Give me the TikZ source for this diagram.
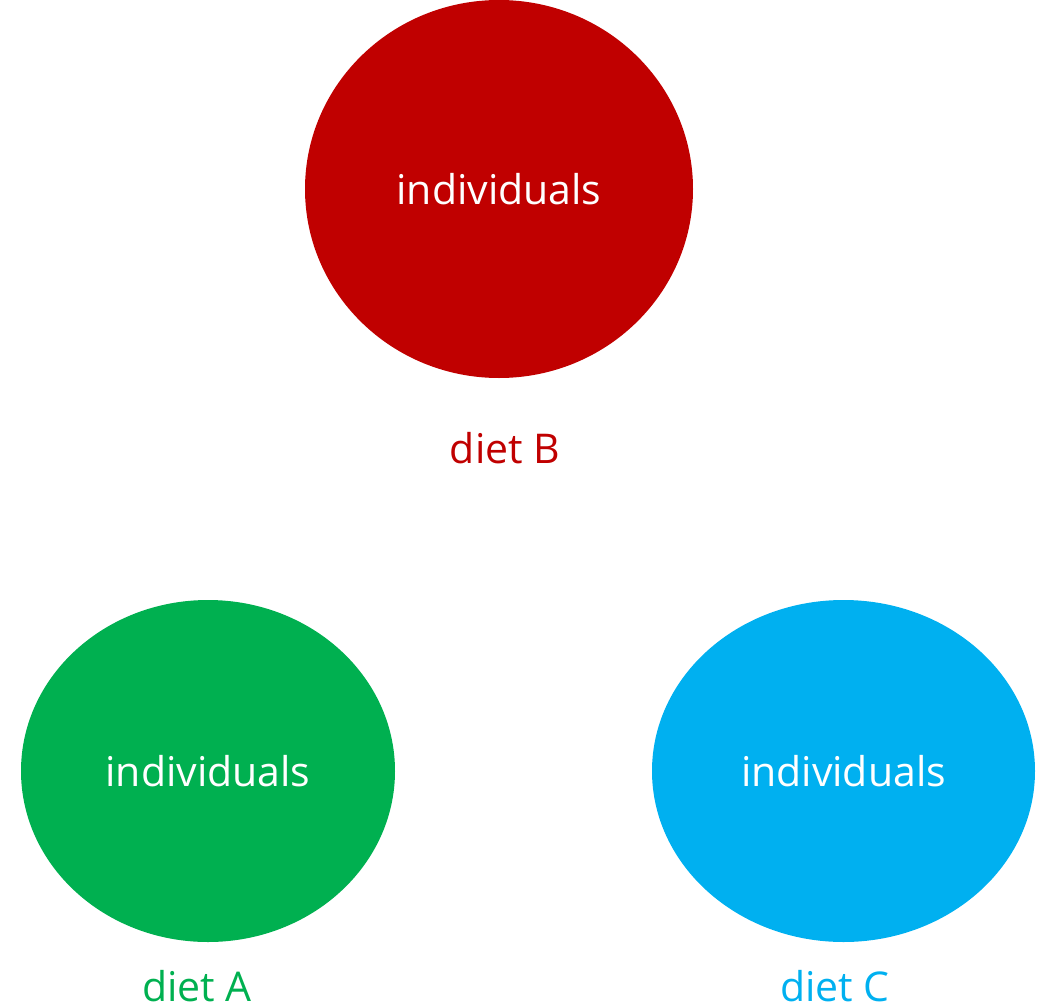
\documentclass[tikz,border=0pt]{standalone}
\usepackage{fontspec}
\setmainfont{Open Sans}
\usetikzlibrary{shapes.geometric}
\definecolor{dietred}{HTML}{C00000}
\definecolor{dietgreen}{HTML}{00B050}
\definecolor{dietblue}{HTML}{00B0F0}
\begin{document}
\begin{tikzpicture}[x=1pt,y=-1pt,
  group/.style={ellipse, inner sep=0pt, text=white, font=\fontsize{41}{49}\selectfont},
  dietlabel/.style={anchor=base, inner sep=0pt, font=\fontsize{41}{49}\selectfont}]
  \useasboundingbox (0,0) rectangle (1045,1004);
  % three groups of individuals
  \node[group, fill=dietred, minimum width=388pt, minimum height=378pt] (b) at (499,189) {individuals};
  \node[group, fill=dietgreen, minimum width=374pt, minimum height=342pt] (a) at (208,771) {individuals};
  \node[group, fill=dietblue, minimum width=383pt, minimum height=342pt] (c) at (843.5,771) {individuals};
  % diet labels
  \node[dietlabel, text=dietred] (lb) at (505,463) {diet B};
  \node[dietlabel, text=dietgreen] (la) at (197,1001) {diet A};
  \node[dietlabel, text=dietblue] (lc) at (835,1001) {diet C};
\end{tikzpicture}
\end{document}
